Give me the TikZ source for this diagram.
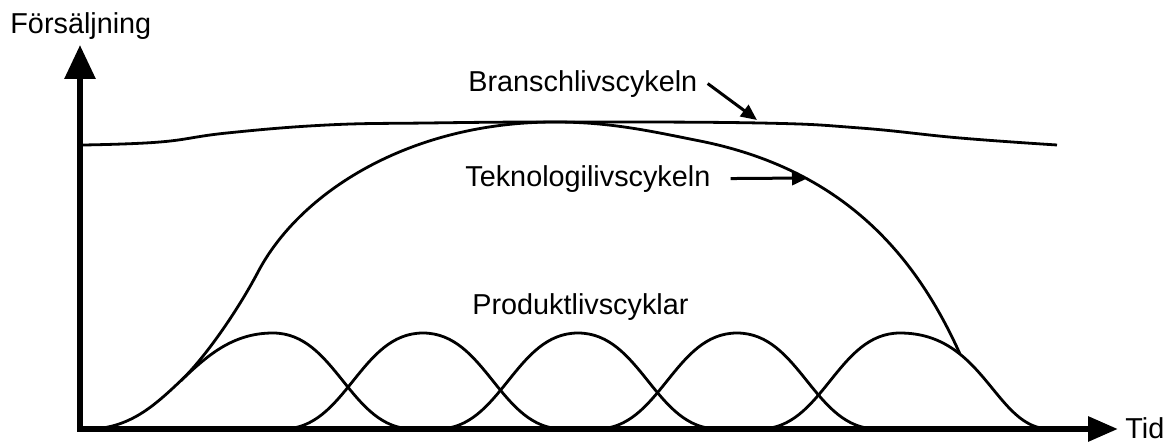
\documentclass[tikz,border=0pt]{standalone}
\usepackage{fontspec}
\setmainfont{Liberation Sans}
\usepackage{tikz}
\usetikzlibrary{arrows.meta}

\begin{document}
\begin{tikzpicture} [x=0.5pt, y=-0.5pt, black, font=\fontsize{14.4}{17}\selectfont,
		axis/.style = {line width=3pt},
		curve/.style = {line width=1.4pt, line join=round},
		pointer/.style = {line width=1.5pt, -{Triangle[length=8pt, width=7pt]}},
		lbl/.style = {inner sep=0pt, anchor=base west}]
			% Page frame, one unit = one pixel, y grows downwards
			\useasboundingbox (0,0) rectangle (1174,443);
			% Axes
			\coordinate (origo) at (80,429);
			\coordinate (ytop) at (80,45);
			\coordinate (xend) at (1118,429);
			\draw [axis, {Triangle[length=17pt, width=15pt]}-{Triangle[length=15pt, width=12pt]}] (ytop) |- (xend);
			\node (ylabel) [lbl] at (10,34) {Försäljning};
			\node (xlabel) [lbl] at (1125,438) {Tid};
			% Industry life cycle (almost flat)
			\draw [curve] plot [smooth, tension=0.7] coordinates {(83,145) (160,142) (227,133) (327,125) (427,123) (560,122) (760,123) (860,128) (960,138) (1057,145)};
			% Product life cycles
			\draw [curve] (88,429) .. controls (171,429) and (190,333) .. (273,333) .. controls (336,333) and (350,429) .. (413,429);
			\draw [curve] (283,429) .. controls (346,429) and (360,333) .. (423,333) .. controls (486,333) and (500,429) .. (563,429);
			\draw [curve] (438,429) .. controls (501,429) and (515,333) .. (578,333) .. controls (641,333) and (655,429) .. (718,429);
			\draw [curve] (597,429) .. controls (660,429) and (674,333) .. (737,333) .. controls (800,333) and (814,429) .. (877,429);
			\draw [curve] (760,429) .. controls (823,429) and (837,333) .. (900,333) .. controls (985,333) and (995,429) .. (1050,429);
			% Technology life cycle: leaves the first product curve, ends on the last one
			\draw [curve] (180.5,381) .. controls (205,358) and (238,310) .. (258,272)
				.. controls (300,192) and (410,122) .. (555,122)
				.. controls (610,122) and (650,131) .. (700,141)
				.. controls (850,171) and (919,263) .. (960,354);
			% Labels and pointers
			\node (bransch) [lbl] at (468,92) {Branschlivscykeln};
			\node (tekno) [lbl] at (465,187) {Teknologilivscykeln};
			\node (produkt) [lbl] at (472,315) {Produktlivscyklar};
			\coordinate (bpoint) at (757,120);
			\coordinate (tpoint) at (808,178);
			\draw [pointer] ([shift={(10,-1)}]bransch.east) -- (bpoint);
			\draw [pointer, shorten <=10pt] (tekno) -- (tpoint);
		\end{tikzpicture}
\end{document}
